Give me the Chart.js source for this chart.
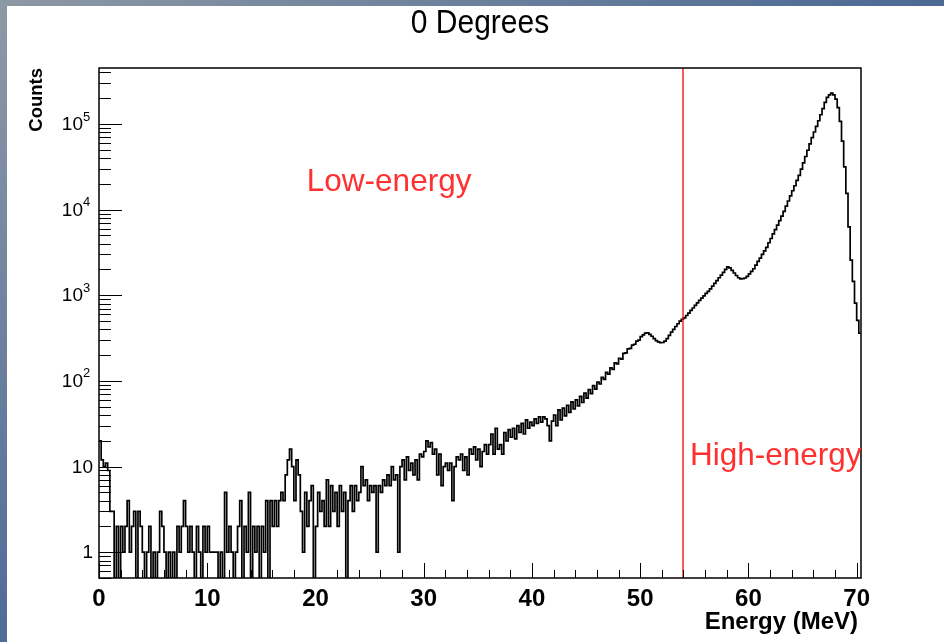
<!DOCTYPE html>
<html lang="en">
<head>
<meta charset="UTF-8">
<title>0 Degrees</title>
<script src="https://cdn.jsdelivr.net/npm/chart.js"></script>
<style>
    body { margin: 0; background: #fff; }
    .wrap { position: relative; width: 944px; height: 642px; overflow: hidden; background: #fff; }
    .edge-top { position: absolute; left: 0; top: 0; width: 944px; height: 6px; background: linear-gradient(to right, #8d98a4, #4b6994); }
    .edge-left { position: absolute; left: 0; top: 0; width: 7px; height: 642px; background: linear-gradient(to bottom, #8e99a6, #4f6b98); }
    canvas { position: absolute; left: 0; top: 0; }
</style>
</head>
<body>
<div class="wrap">
    <div class="edge-top"></div>
    <div class="edge-left"></div>
    <canvas id="chart" width="944" height="642"></canvas>
</div>
<script>
// histogram: 0.2 MeV bins from 0 to 70.4 MeV
const binWidth = 0.2;
const counts = [
    // 0 - 16 MeV
    20, 12, 10, 11, 9, 3, 3, 0, 2, 0, 2, 1, 2, 4, 1, 2, 3, 0, 3, 2,
    1, 0, 1, 2, 0, 1, 0, 1, 3, 2, 1, 0, 1, 0, 1, 0, 2, 1, 2, 4,
    2, 1, 2, 1, 0, 2, 1, 0, 2, 1, 2, 1, 1, 1, 1, 0, 1, 0, 5, 1,
    2, 1, 0, 1, 2, 4, 0, 2, 1, 5, 0, 2, 1, 2, 0, 2, 1, 4, 0, 4,
    // 16 - 30 MeV
    2, 4, 2, 4, 5, 4, 8, 12, 16, 10, 4, 12, 8, 3, 1, 5, 2, 4, 6, 0,
    2, 5, 3, 4, 2, 7, 2, 6, 3, 5, 2, 6, 3, 5, 0, 4, 6, 3, 6, 4,
    5, 10, 6, 7, 4, 6, 5, 6, 1, 6, 5, 7, 6, 8, 6, 10, 7, 8, 1, 10,
    12, 7, 13, 9, 11, 8, 12, 7, 14, 13,
    // 30 - 42 MeV
    15, 20, 17, 19, 14, 16, 8, 14, 6, 10, 11, 9, 11, 4, 10, 13, 12, 14, 9, 13,
    8, 16, 14, 17, 12, 16, 10, 15, 18, 14, 18, 24, 14, 28, 16, 18, 14, 25, 20, 27,
    22, 28, 21, 30, 25, 32, 24, 35, 28, 33, 30, 36, 32, 38, 33, 38, 36, 30, 20, 34,
    // 42 - 54 MeV
    40, 30, 46, 35, 48, 39, 52, 43, 57, 47, 60, 51, 66, 56, 72, 63, 79, 71, 88, 80,
    97, 92, 110, 104, 126, 120, 142, 136, 162, 158, 184, 180, 210, 212, 236, 240, 262, 268, 292, 300,
    328, 345, 362, 365, 350, 332, 312, 296, 285, 280, 281, 292, 312, 340, 372, 400, 432, 465, 498, 525,
    // 54 - 70.4 MeV
    545, 580, 620, 665, 710, 760, 815, 870, 925, 985, 1050, 1110, 1190, 1280, 1380, 1480, 1600, 1720, 1850, 2000,
    2140, 2090, 1950, 1820, 1700, 1600, 1550, 1560, 1590, 1660, 1780, 1900, 2040, 2250, 2480, 2720, 3000, 3300, 3630, 4100,
    4600, 5200, 5850, 6600, 7450, 8400, 9550, 11000, 12600, 14500, 16600, 19000, 21900, 25100, 29700, 35200, 41700, 49300, 58500, 69200,
    80500, 93500, 109000, 128000, 151000, 179000, 204000, 219000, 229000, 219000, 195000, 155000, 107000, 63000, 31600, 15500, 6300, 2570, 1450, 810,
    510, 360
];

const xTicks = [0, 10, 20, 30, 40, 50, 60, 70];
const xMinorStep = 2;
const yDecades = [0, 1, 2, 3, 4, 5];
const splitEnergy = 54;
const fontFamily = "'Liberation Sans', Arial, Helvetica, sans-serif";

const points = counts.map((c, i) => ({ x: i * binWidth, y: c }));
points.push({ x: counts.length * binWidth, y: counts[counts.length - 1] });

const rootStyle = {
    id: 'rootStyle',
    afterDraw(chart) {
        const { ctx, chartArea: a, scales: { x, y } } = chart;
        ctx.save();

        // cut line between the two regions
        const xs = Math.round(x.getPixelForValue(splitEnergy));
        ctx.strokeStyle = '#ff0000';
        ctx.lineWidth = 1.3;
        ctx.beginPath();
        ctx.moveTo(xs, a.top);
        ctx.lineTo(xs, a.bottom);
        ctx.stroke();

        // frame
        ctx.strokeStyle = '#000';
        ctx.lineWidth = 1.5;
        ctx.strokeRect(a.left, a.top, a.right - a.left, a.bottom - a.top);

        // x ticks (inward)
        ctx.lineWidth = 1;
        ctx.beginPath();
        for (let e = 0; e <= 70; e += xMinorStep) {
            const px = Math.round(x.getPixelForValue(e)) + 0.5;
            const len = e % 10 === 0 ? 15 : 8;
            ctx.moveTo(px, a.bottom);
            ctx.lineTo(px, a.bottom - len);
        }
        // y ticks (inward), decades + 2..9
        for (let k = -1; k <= 5; k++) {
            for (let m = 1; m <= 9; m++) {
                const v = m * Math.pow(10, k);
                if (v < y.min || v > y.max) continue;
                const py = Math.round(y.getPixelForValue(v)) + 0.5;
                const len = m === 1 ? 23 : 12;
                ctx.moveTo(a.left, py);
                ctx.lineTo(a.left + len, py);
            }
        }
        ctx.stroke();

        // y labels
        ctx.fillStyle = '#000';
        ctx.textBaseline = 'middle';
        yDecades.forEach(k => {
            const py = y.getPixelForValue(Math.pow(10, k)) + 1;
            ctx.font = '19px ' + fontFamily;
            ctx.textAlign = 'right';
            if (k < 2) {
                ctx.fillText(k === 0 ? '1' : '10', 93, py);
            } else {
                ctx.fillText('10', 83, py);
                ctx.font = '13px ' + fontFamily;
                ctx.textAlign = 'left';
                ctx.fillText(String(k), 83, py - 8);
            }
        });

        // title
        ctx.save();
        ctx.translate(480, 24);
        ctx.scale(1, 1.12);
        ctx.font = '30px ' + fontFamily;
        ctx.textAlign = 'center';
        ctx.fillText('0 Degrees', 0, 0);
        ctx.restore();

        // axis titles
        ctx.font = 'bold 24px ' + fontFamily;
        ctx.textAlign = 'right';
        ctx.fillText('Energy (MeV)', 858, 622);

        ctx.save();
        ctx.translate(37, a.top);
        ctx.rotate(-Math.PI / 2);
        ctx.font = 'bold 18.5px ' + fontFamily;
        ctx.textAlign = 'right';
        ctx.fillText('Counts', 0, 0);
        ctx.restore();

        // region labels
        ctx.fillStyle = '#ff3030';
        ctx.font = '31.5px ' + fontFamily;
        ctx.textAlign = 'left';
        ctx.fillText('Low-energy', x.getPixelForValue(19.2), y.getPixelForValue(21000));
        ctx.fillText('High-energy', x.getPixelForValue(54.6), y.getPixelForValue(13));

        ctx.restore();
    }
};

const ctx = document.getElementById('chart').getContext('2d');
const chart = new Chart(ctx, {
    type: 'line',
    data: {
        datasets: [{
            label: 'Counts',
            data: points,
            borderColor: '#000',
            borderWidth: 1.7,
            pointRadius: 0,
            stepped: 'before',
            fill: false
        }]
    },
    options: {
        responsive: false,
        animation: false,
        parsing: false,
        layout: { padding: { top: 68, right: 83, left: 0, bottom: 0 } },
        plugins: {
            legend: { display: false },
            tooltip: { enabled: false },
            title: { display: false }
        },
        scales: {
            x: {
                type: 'linear',
                min: 0,
                max: 70.4,
                grid: { display: false, drawTicks: false },
                border: { display: false },
                afterBuildTicks: s => { s.ticks = xTicks.map(v => ({ value: v })); },
                afterFit: s => { s.height = 64; },
                ticks: {
                    color: '#000',
                    font: { family: fontFamily, size: 24, weight: 'bold' },
                    padding: 7,
                    maxRotation: 0,
                    autoSkip: false
                }
            },
            y: {
                type: 'logarithmic',
                min: 0.5,
                max: 4.5e5,
                grid: { display: false, drawTicks: false },
                border: { display: false },
                ticks: { display: false },
                afterFit: s => { s.width = 99; }
            }
        }
    },
    plugins: [rootStyle]
});
</script>
</body>
</html>
